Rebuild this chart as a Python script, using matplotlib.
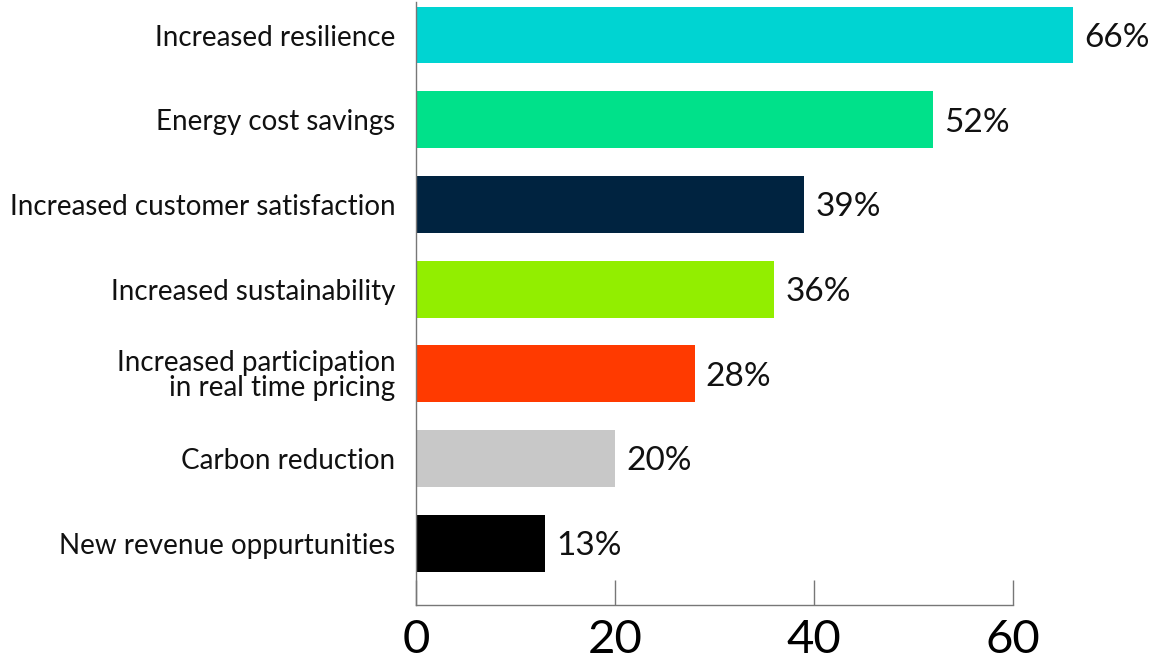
import matplotlib
matplotlib.use("Agg")
import matplotlib.pyplot as plt

plt.rcParams["font.family"] = ["Lato", "DejaVu Sans"]

categories = [
    "Increased resilience",
    "Energy cost savings",
    "Increased customer satisfaction",
    "Increased sustainability",
    "Increased participation\nin real time pricing",
    "Carbon reduction",
    "New revenue oppurtunities",
]
values = [66, 52, 39, 36, 28, 20, 13]
colors = ["#00D4D2", "#00E18A", "#002340", "#92EE00", "#FF3A00", "#C8C8C8", "#000000"]
xticks = [0, 20, 40, 60]

fig = plt.figure(figsize=(11.56, 6.62), dpi=100)
ax = fig.add_axes([0.36, 0.086, 0.6024, 0.911])

pos = list(range(len(categories)))
ax.barh(pos, values, height=0.67, color=colors)
ax.set_ylim(6.73, -0.39)
ax.set_xlim(0, 70)

for y, v in zip(pos, values):
    ax.annotate(f"{v}%", (v, y), xytext=(8, -2), textcoords="offset points",
                ha="left", va="center", fontsize=24, color="#111111")

ax.set_yticks(pos)
ax.set_yticklabels(categories, fontsize=20, color="#111111", ha="right",
                   linespacing=0.95)
ax.tick_params(axis="y", length=0, pad=15)

ax.set_xticks(xticks)
ax.tick_params(axis="x", direction="in", length=18, width=1, color="#777777",
               labelsize=34, pad=10)

for side in ["top", "right"]:
    ax.spines[side].set_visible(False)
ax.spines["bottom"].set_bounds(0, 60)
for side in ["bottom", "left"]:
    ax.spines[side].set_color("#777777")
    ax.spines[side].set_linewidth(1)

fig.savefig("out.png", dpi=100)
